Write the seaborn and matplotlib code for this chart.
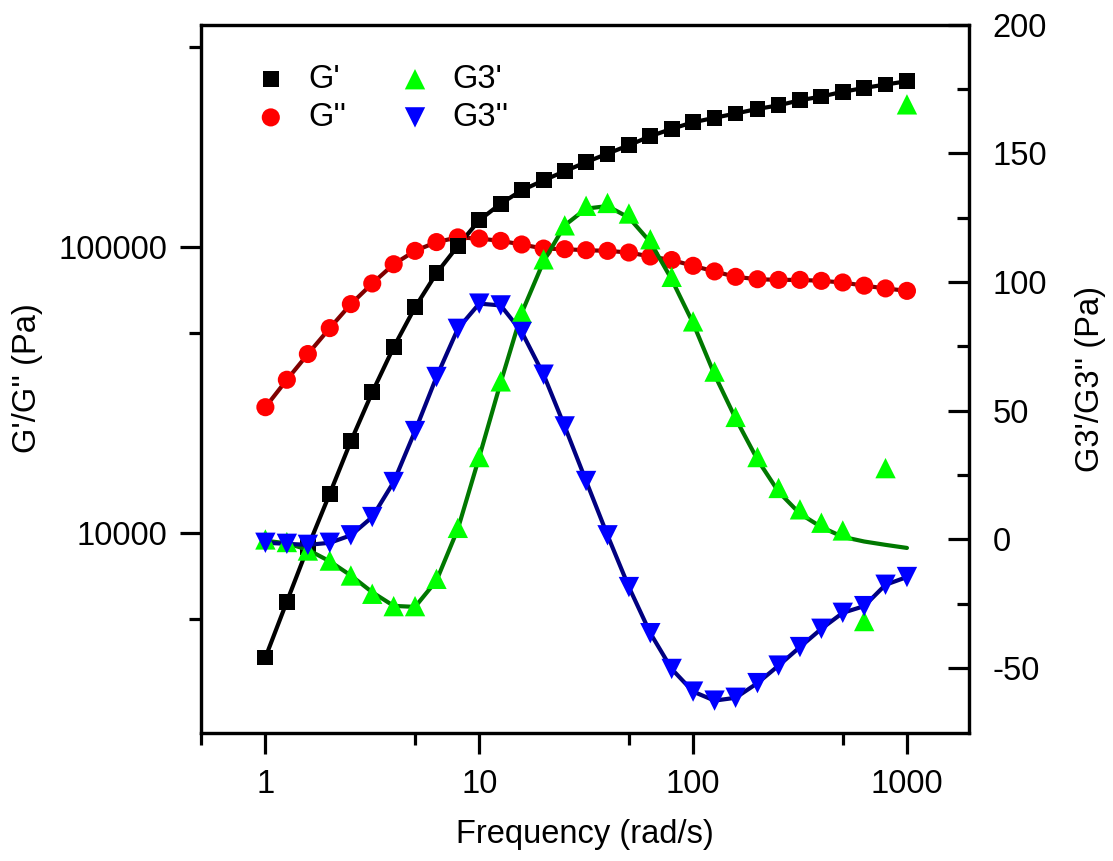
import numpy as np
import pandas as pd
import matplotlib
matplotlib.use('Agg')
import matplotlib.pyplot as plt
import seaborn as sns
from matplotlib.ticker import FixedLocator, NullFormatter

# frequency sweep (rad/s), 10 points per decade
freq = [1.0, 1.26, 1.58, 2.0, 2.51, 3.16, 3.98, 5.01, 6.31, 7.94,
        10.0, 12.6, 15.8, 20.0, 25.1, 31.6, 39.8, 50.1, 63.1, 79.4,
        100, 126, 158, 200, 251, 316, 398, 501, 631, 794, 1000]

# storage / loss modulus (Pa), left log axis
g_storage = [3660, 5740, 8900, 13700, 20900, 31000, 44600, 61500, 80900, 100800,
             124000, 141700, 157800, 171000, 184000, 198000, 212000, 227000, 244000, 259000,
             273000, 283000, 293000, 304000, 313000, 326000, 336000, 349000, 360000, 370000, 380000]
g_loss = [27500, 34300, 42200, 52000, 63100, 74500, 87000, 96900, 104000, 108000,
          107000, 105000, 102000, 98700, 98200, 97400, 96900, 95600, 92600, 90000,
          85900, 82100, 78600, 77100, 76700, 76700, 76100, 75100, 73200, 71600, 70200]

# third harmonic moduli (Pa), right linear axis
g3_storage = [0.0, -1.0, -4.3, -8.2, -14.0, -21.1, -25.9, -25.9, -15.3, 4.5,
              32.0, 61.4, 88.0, 108.8, 122.0, 129.6, 130.7, 126.6, 116.6, 102.0,
              84.7, 65.2, 47.6, 32.0, 20.0, 11.7, 6.5, 3.5, -31.7, 27.7, 169.0]
g3_storage_fit = [-0.5, -1.5, -4.0, -8.5, -14.0, -20.5, -25.8, -26.2, -16.0, 4.0,
                  32.0, 61.0, 88.0, 108.0, 122.0, 128.5, 129.5, 125.0, 115.5, 101.0,
                  84.0, 64.0, 47.0, 31.0, 18.5, 10.0, 4.8, 1.0, -0.8, -2.1, -3.3]
g3_loss = [-1.3, -1.7, -2.1, -1.3, 1.6, 8.7, 22.3, 42.1, 63.1, 81.8,
           91.6, 90.9, 80.6, 64.0, 43.9, 22.7, 1.6, -18.5, -36.4, -50.3,
           -59.1, -62.6, -61.5, -55.8, -49.0, -41.8, -34.7, -28.5, -25.9, -17.6, -14.6]

x_major = [1, 10, 100, 1000]
x_labels = ['1', '10', '100', '1000']
y_major = [10000, 100000]
y_labels = ['10000', '100000']
y2_major = [-50, 0, 50, 100, 150, 200]

df = pd.DataFrame({'freq': freq, 'g1': g_storage, 'g2': g_loss,
                   'g31': g3_storage, 'g31fit': g3_storage_fit, 'g32': g3_loss})

sns.set_style('ticks')
plt.rcParams['font.family'] = ['Liberation Sans', 'DejaVu Sans']
plt.rcParams['axes.unicode_minus'] = False
plt.rcParams['text.color'] = 'black'
plt.rcParams['axes.labelcolor'] = 'black'
plt.rcParams['xtick.color'] = 'black'
plt.rcParams['ytick.color'] = 'black'
FS = 23.5

fig, ax = plt.subplots(figsize=(11.13, 8.61), dpi=100)
fig.subplots_adjust(left=0.1806, right=0.8706, bottom=0.1492, top=0.9715)
ax.set_xscale('log')
ax.set_yscale('log')
ax2 = ax.twinx()

lw = 3.0
# left axis: G', G''
sns.lineplot(data=df, x='freq', y='g2', ax=ax, color='#800000', lw=lw, legend=False)
sns.scatterplot(data=df, x='freq', y='g2', ax=ax, color='#ff0000', marker='o', s=170,
                edgecolor='none', label="G''", legend=False, zorder=3)
sns.lineplot(data=df, x='freq', y='g1', ax=ax, color='black', lw=lw, legend=False)
sns.scatterplot(data=df, x='freq', y='g1', ax=ax, color='black', marker='s', s=130,
                edgecolor='none', label="G'", legend=False, zorder=4)

# right axis: G3', G3''
sns.lineplot(data=df, x='freq', y='g31fit', ax=ax2, color='#007800', lw=lw, legend=False)
sns.scatterplot(data=df, x='freq', y='g31', ax=ax2, color='#00ff00', marker='^', s=215,
                edgecolor='none', label="G3'", legend=False, zorder=3)
sns.lineplot(data=df, x='freq', y='g32', ax=ax2, color='#000080', lw=lw, legend=False)
sns.scatterplot(data=df, x='freq', y='g32', ax=ax2, color='#0000ff', marker='v', s=215,
                edgecolor='none', label="G3''", legend=False, zorder=4)

ax.set_xlim(0.5, 1950)
ax.set_ylim(2000, 600000)
ax2.set_ylim(-75, 200)

ax.xaxis.set_major_locator(FixedLocator(x_major))
ax.set_xticklabels(x_labels)
ax.xaxis.set_minor_locator(FixedLocator([0.5, 5, 50, 500]))
ax.xaxis.set_minor_formatter(NullFormatter())
ax.yaxis.set_major_locator(FixedLocator(y_major))
ax.set_yticklabels(y_labels)
ax.yaxis.set_minor_locator(FixedLocator([5000, 50000, 500000]))
ax.yaxis.set_minor_formatter(NullFormatter())
ax2.yaxis.set_major_locator(FixedLocator(y2_major))
ax2.yaxis.set_minor_locator(FixedLocator([-25, 25, 75, 125, 175]))

for a in (ax, ax2):
    for sp in a.spines.values():
        sp.set_linewidth(2.3)
        sp.set_color('black')

ax.tick_params(axis='x', which='major', direction='out', length=15, width=2.3,
               labelsize=FS, pad=11, top=False)
ax.tick_params(axis='x', which='minor', direction='out', length=8.5, width=2.3, top=False)
ax.tick_params(axis='y', which='major', direction='out', length=15, width=2.3,
               labelsize=FS, pad=9, right=False)
ax.tick_params(axis='y', which='minor', direction='out', length=8.5, width=2.3, right=False)
ax2.tick_params(axis='y', which='major', direction='in', length=15, width=2.3,
                labelsize=FS, pad=17)
ax2.tick_params(axis='y', which='minor', direction='in', length=8.5, width=2.3)

ax.set_xlabel('Frequency (rad/s)', fontsize=FS)
ax.set_ylabel("G'/G'' (Pa)", fontsize=FS)
ax2.set_ylabel("G3'/G3'' (Pa)", fontsize=FS)
ax.xaxis.set_label_coords(0.5, -0.122)
ax.yaxis.set_label_coords(-0.206, 0.5)
ax2.yaxis.set_label_coords(1.138, 0.5)

h1, l1 = ax.get_legend_handles_labels()
h2, l2 = ax2.get_legend_handles_labels()
handles = [h1[1], h1[0], h2[0], h2[1]]
labels = [l1[1], l1[0], l2[0], l2[1]]
ax2.legend(handles, labels, ncol=2, loc='upper left', bbox_to_anchor=(0.042, 0.963),
           borderaxespad=0, frameon=False, fontsize=FS, scatterpoints=1,
           handlelength=1.5, handletextpad=0.4, columnspacing=1.35, labelspacing=0.22)

fig.savefig('out.png', dpi=100)
